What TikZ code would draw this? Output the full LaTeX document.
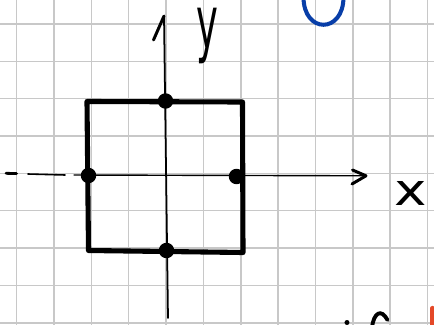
\documentclass[tikz,border=0pt]{standalone}
\usepackage{fontspec}
\setmainfont{DejaVu Sans}
\usetikzlibrary{calc}

\definecolor{gridgray}{RGB}{200,200,200}
\definecolor{inkblue}{RGB}{8,62,168}
\definecolor{inkred}{RGB}{228,72,40}

\tikzset{
	gridline/.style={draw=gridgray, line width=0.8pt},
	axisline/.style={line width=1pt, line cap=round, line join=round},
	edgeline/.style={line width=2.9pt, line cap=round, line join=round},
	vertexdot/.style={circle, fill=black, inner sep=0pt, minimum size=0.31cm},
	handlabel/.style={inner sep=0pt, anchor=base},
}

\begin{document}
\begin{tikzpicture}[x=0.02cm, y=-0.02cm]
	\useasboundingbox (0,0) rectangle (434,325);
	\fill [white] (0,0) rectangle (434,325);
	\foreach \k in {0,...,11} {
		\draw [gridline] ({16.7+37.35*\k},0) -- ({16.7+37.35*\k},325);
	}
	\foreach \k in {0,...,8} {
		\draw [gridline] (0,{24+37.35*\k}) -- (434,{24+37.35*\k});
	}

	\coordinate (ytip) at (164,16);
	\coordinate (yend) at (168,318);
	\coordinate (ybarb) at (153.5,40);
	\coordinate (xtail) at (74,175);
	\coordinate (xtip) at (366,175.8);
	\coordinate (xbarbup) at (352.5,170);
	\coordinate (xbarbdown) at (352,184);
	\draw [axisline] (yend) -- (ytip);
	\draw [axisline, line width=1.7pt] (ybarb) -- (ytip);
	\draw [axisline, line width=0.8pt] (xtail) -- (xtip);
	\draw [axisline, line width=1.7pt] (xbarbup) -- (xtip) -- (xbarbdown);
	\draw [axisline, line width=1.6pt] (6,173.3) -- (16.5,173.6);
	\draw [axisline, line width=0.9pt] (28,174) -- (65,175);

	\coordinate (tl) at (87,101.5);
	\coordinate (tr) at (242.5,102);
	\coordinate (br) at (243,252.5);
	\coordinate (bl) at (88.5,250.5);
	\draw [edgeline] (tl) -- (tr) -- (br) -- (bl) -- cycle;

	\node [vertexdot] (top) at (165.5,101) {};
	\node [vertexdot] (left) at (88.5,175.5) {};
	\node [vertexdot] (right) at (236.5,176.5) {};
	\node [vertexdot] (bottom) at (166.5,250.5) {};

	\node [handlabel, font=\fontsize{42}{42}\selectfont] (ylabel) at (207.5,48) {\scalebox{0.5}[1]{y}};
	\node [handlabel, font=\fontsize{25}{25}\selectfont] (xlabel) at (411,205) {\scalebox{1.25}[1]{x}};

	\draw [inkblue, line width=2.3pt, line cap=round] (303.5,-3) .. controls (303.5,34) and (343.5,34) .. (343.5,-3);
	\draw [line width=2.2pt, line cap=round] (372,327) .. controls (374,313) and (381,308) .. (387.5,320);
	\fill (347,322.5) circle (2.5);
	\draw [inkred, line width=2.4pt, line cap=round] (432.5,308) -- (432.5,330);
\end{tikzpicture}
\end{document}
